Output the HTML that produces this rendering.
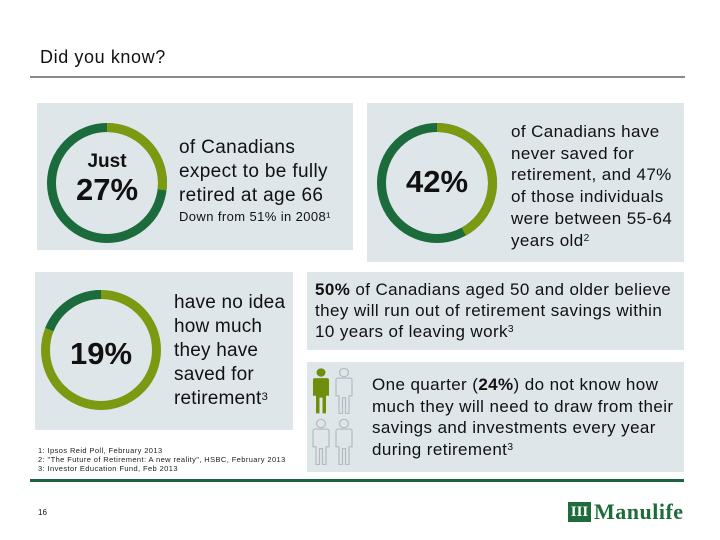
<!DOCTYPE html>
<html><head><meta charset="utf-8"><style>
body{margin:0;width:720px;height:540px;background:#fff;position:relative;font-family:"Liberation Sans",sans-serif;overflow:hidden}
.a{position:absolute}
.p{position:absolute;background:#dee6ea}
.t{position:absolute;color:#111;white-space:nowrap}
.ls{letter-spacing:0.4px}
sup{font-size:60%;vertical-align:top;position:relative;top:-2px}
</style></head><body>
<div class="t" style="left:40px;top:47px;font-size:18px;letter-spacing:0.6px">Did you know?</div>
<div class="a" style="left:30px;top:76px;width:655px;height:2px;background:#858b8e"></div>

<div class="p" style="left:37px;top:103px;width:316px;height:147px"></div>
<div class="p" style="left:367px;top:103px;width:317px;height:159px"></div>
<div class="p" style="left:35px;top:272px;width:258px;height:158px"></div>
<div class="p" style="left:307px;top:272px;width:377px;height:78px"></div>
<div class="p" style="left:307px;top:362px;width:377px;height:110px"></div>

<svg class="a" id="donuts" style="left:0;top:0" width="720" height="540"></svg>

<div class="t" style="left:67px;top:151px;width:80px;text-align:center;font-size:19px;font-weight:bold">Just</div>
<div class="t" style="left:57px;top:172px;width:100px;text-align:center;font-size:31px;font-weight:bold">27%</div>
<div class="t" style="left:179px;top:136px;font-size:19px;line-height:24px;letter-spacing:0.35px">of Canadians<br>expect to be fully<br>retired at age 66</div>
<div class="t" style="left:179px;top:209px;font-size:13px;letter-spacing:0.4px">Down from 51% in 2008¹</div>

<div class="t" style="left:387px;top:164px;width:100px;text-align:center;font-size:31px;font-weight:bold">42%</div>
<div class="t ls" style="left:511px;top:121px;font-size:17px;line-height:21.7px">of Canadians have<br>never saved for<br>retirement, and 47%<br>of those individuals<br>were between 55-64<br>years old<sup>2</sup></div>

<div class="t" style="left:51px;top:336px;width:100px;text-align:center;font-size:31px;font-weight:bold">19%</div>
<div class="t" style="left:174px;top:291px;font-size:19px;line-height:24px;letter-spacing:0.2px">have no idea<br>how much<br>they have<br>saved for<br>retirement<sup>3</sup></div>

<div class="t ls" style="left:315px;top:279px;font-size:17px;line-height:21px"><b>50%</b> of Canadians aged 50 and older believe<br>they will run out of retirement savings within<br>10 years of leaving work<sup>3</sup></div>

<svg class="a" style="left:310px;top:366px" width="50" height="102">
<g fill="#6f8f0c" transform="scale(1,0.93)"><circle cx="11" cy="7" r="4.5"/><path d="M5 13 h12 a2 2 0 0 1 2 2 v17 h-3 v19 h-3.5 v-17 h-3 v17 h-3.5 v-19 h-3 v-17 a2 2 0 0 1 2 -2z"/></g>
<g fill="none" stroke="#b5babc" stroke-width="1.2" transform="translate(23,0) scale(1,0.93)"><circle cx="11" cy="7" r="4.5"/><path d="M5 13 h12 a2 2 0 0 1 2 2 v17 h-3 v19 h-3.5 v-17 h-3 v17 h-3.5 v-19 h-3 v-17 a2 2 0 0 1 2 -2z"/></g>
<g fill="none" stroke="#b5babc" stroke-width="1.2" transform="translate(0,51) scale(1,0.93)"><circle cx="11" cy="7" r="4.5"/><path d="M5 13 h12 a2 2 0 0 1 2 2 v17 h-3 v19 h-3.5 v-17 h-3 v17 h-3.5 v-19 h-3 v-17 a2 2 0 0 1 2 -2z"/></g>
<g fill="none" stroke="#b5babc" stroke-width="1.2" transform="translate(23,51) scale(1,0.93)"><circle cx="11" cy="7" r="4.5"/><path d="M5 13 h12 a2 2 0 0 1 2 2 v17 h-3 v19 h-3.5 v-17 h-3 v17 h-3.5 v-19 h-3 v-17 a2 2 0 0 1 2 -2z"/></g>
</svg>
<div class="t ls" style="left:372px;top:374px;font-size:17px;line-height:21.5px">One quarter (<b>24%</b>) do not know how<br>much they will need to draw from their<br>savings and investments every year<br>during retirement<sup>3</sup></div>

<div class="t" style="left:38px;top:446px;font-size:7.5px;line-height:9px;color:#222;letter-spacing:0.4px">1: Ipsos Reid Poll, February 2013<br>2: "The Future of Retirement: A new reality", HSBC, February 2013<br>3: Investor Education Fund, Feb 2013</div>
<div class="a" style="left:30px;top:479px;width:654px;height:3px;background:#1d6340"></div>
<div class="t" style="left:38px;top:508px;font-size:8px">16</div>
<div class="a" style="left:568px;top:502px;width:23px;height:20px;background:#1e6b3c;color:#fff;font:bold 15px 'Liberation Serif',serif;text-align:center;line-height:20px">III</div>
<div class="t" style="left:594px;top:499px;font:bold 22px 'Liberation Serif',serif;color:#1e6b3c;letter-spacing:0.5px">Manulife</div>

<script>
const donutLabels=["27%","42%","19%"];
const donutValues=[27,42,19];
const donutDirection=[1,1,-1];
const cx=[107,437,101], cy=[183,183,350];
const R=55.5, W=9, DARK="#1b6b3d", LIGHT="#7b9a12";
const svg=document.getElementById('donuts');
const NS="http://www.w3.org/2000/svg";
function pt(x,y,a){return [x+R*Math.sin(a),y-R*Math.cos(a)];}
donutValues.forEach((v,i)=>{
  const ring=document.createElementNS(NS,'circle');
  
  
  ring.setAttribute('cx',cx[i]);ring.setAttribute('cy',cy[i]);ring.setAttribute('r',R);
  ring.setAttribute('fill','none');
  ring.setAttribute('stroke',donutDirection[i]>0?DARK:LIGHT);
  ring.setAttribute('stroke-width',W);
  svg.appendChild(ring);
  const ang=v/100*2*Math.PI*donutDirection[i];
  const s=pt(cx[i],cy[i],0), e=pt(cx[i],cy[i],ang);
  const large=Math.abs(ang)>Math.PI?1:0, sweep=donutDirection[i]>0?1:0;
  const seg=document.createElementNS(NS,'path');
  
  
  seg.setAttribute('d',`M${s[0]} ${s[1]} A${R} ${R} 0 ${large} ${sweep} ${e[0]} ${e[1]}`);
  seg.setAttribute('fill','none');
  seg.setAttribute('stroke',donutDirection[i]>0?LIGHT:DARK);
  seg.setAttribute('stroke-width',W);
  svg.appendChild(seg);
});
</script>
</body></html>
